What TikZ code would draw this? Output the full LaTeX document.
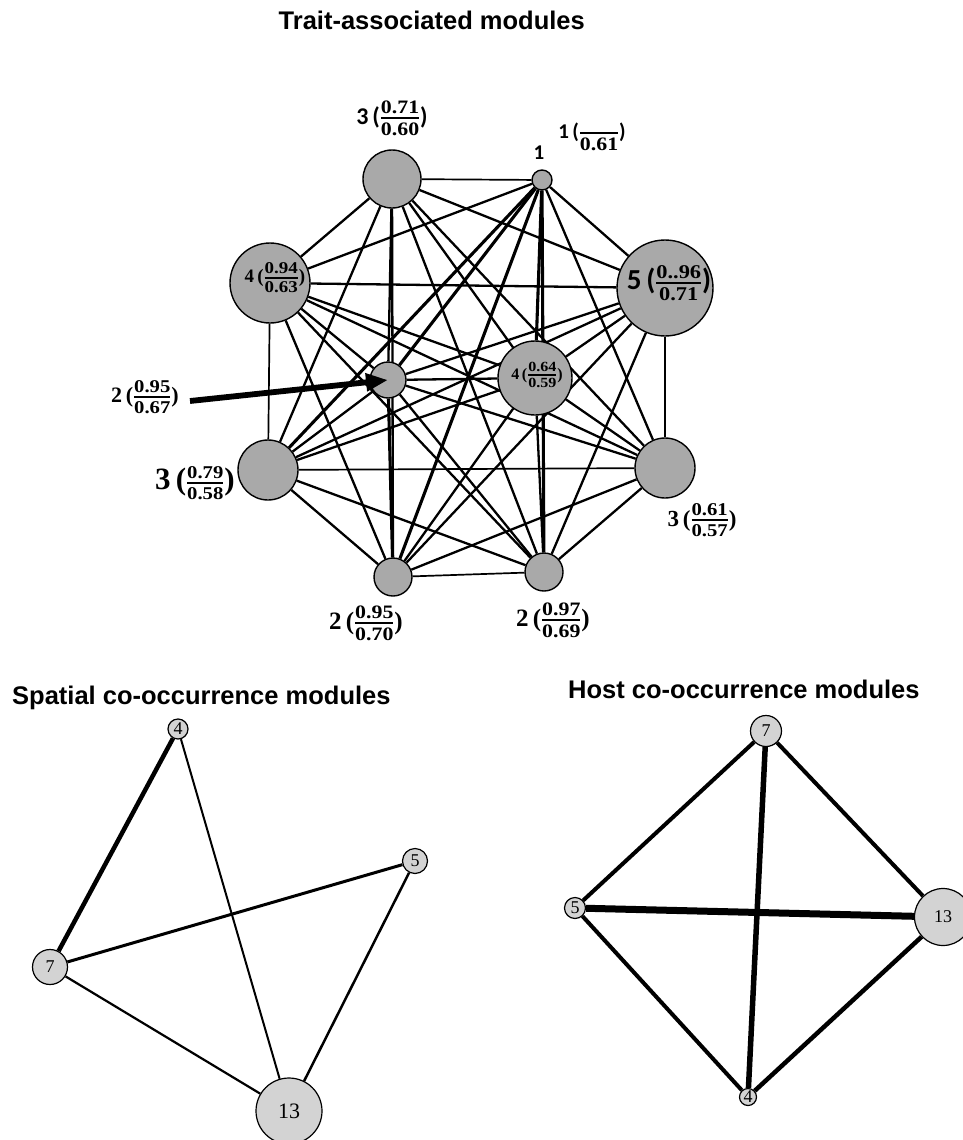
\documentclass[tikz,border=0pt]{standalone}
\usepackage{fontspec}
\setmainfont{Liberation Serif}
\newfontfamily\frf{Liberation Serif}[FakeStretch=1.15]
\newfontfamily\cb{Carlito}
\newfontfamily\ar{Liberation Sans}
\usetikzlibrary{arrows.meta}
\pgfdeclarelayer{bg}
\pgfsetlayers{bg,main}
\definecolor{tgray}{HTML}{A9A9A9}
\definecolor{bgray}{HTML}{D3D3D3}
\newcommand\fsz[1]{\fontsize{#1}{#1}\selectfont}
\newbox\fnb \newbox\fdb \newdimen\fwd
% compact fraction: #1 size, #2 numerator, #3 denominator
\newcommand\frc[3]{\ensuremath{\vcenter{\hbox{\frf\fsz{#1}\bfseries
  \setbox\fnb=\hbox{#2\vphantom{0}}\setbox\fdb=\hbox{#3\vphantom{0}}%
  \fwd=\wd\fdb \ifdim\wd\fnb>\fwd \fwd=\wd\fnb \fi
  \vbox{\offinterlineskip
    \hbox to\fwd{\hss\box\fnb\hss}%
    \kern.2em
    \hrule height1.4pt width\fwd
    \kern.2em
    \hbox to\fwd{\hss\box\fdb\hss}}}}}}
% #1 font, #2 main size, #3 number, #4 fraction size, #5 numerator, #6 denominator
\newcommand\flab[6]{#1\fsz{#2}\bfseries #3\,(\kern1pt\frc{#4}{#5}{#6}\kern1pt)}
\begin{document}
\begin{tikzpicture}[x=1pt,y=-1pt,
  tn/.style={circle,draw=black,line width=1.4pt,fill=tgray,inner sep=0pt},
  bn/.style={circle,draw=black,line width=1.2pt,fill=bgray,inner sep=0pt,font=\fsz{18}},
  lab/.style={inner sep=0pt},
  en/.style={line width=2.3pt},
  et/.style={line width=1.7pt},
  ek/.style={line width=3.1pt},
  ttl/.style={font=\ar\bfseries\fsz{25.5},inner sep=0pt}]
\begin{pgfonlayer}{bg}
\fill[white] (0,0) rectangle (962,1140);
\end{pgfonlayer}
\useasboundingbox (0,0) rectangle (962,1140);

% ---------- titles
\node[ttl,anchor=base east] (t1) at (585,30) {Trait-associated modules};
\node[ttl,anchor=base west] (t2) at (12,704) {Spatial co-occurrence modules};
\node[ttl,anchor=base west] (t3) at (568,698) {Host co-occurrence modules};

% ---------- trait-associated network
\node[tn,minimum size=58pt] (A) at (392,179) {};
\node[tn,minimum size=20pt] (B) at (542,180) {};
\node[tn,minimum size=80pt] (C) at (270,283) {};
\node[tn,minimum size=96pt] (D) at (665,288) {};
\node[tn,minimum size=36pt] (E) at (388,380) {};
\node[tn,minimum size=74pt] (F) at (535,378) {};
\node[tn,minimum size=60pt] (G) at (268,470) {};
\node[tn,minimum size=60pt] (H) at (665,468) {};
\node[tn,minimum size=38pt] (I) at (393,577) {};
\node[tn,minimum size=38pt] (J) at (544,572) {};

\begin{pgfonlayer}{bg}
\foreach \u/\v in {A/C,A/D,A/E,A/F,A/G,A/H,A/I,A/J,
                   B/C,B/D,B/H,
                   C/D,C/E,C/F,C/H,C/I,C/J,
                   D/E,D/F,D/G,D/I,D/J,
                   E/F,E/G,E/H,E/J,
                   F/G,F/H,F/I,F/J,
                   G/I,G/J,H/I,H/J}
  \draw[en] (\u) -- (\v);
\foreach \u/\v in {A/B,C/G,D/H,I/J,G/H}
  \draw[et] (\u) -- (\v);
\foreach \u/\v in {B/E,B/F,B/G,B/I,B/J,E/I}
  \draw[ek] (\u) -- (\v);
\end{pgfonlayer}

% labels
\node[lab] (lA) at (392,118) {\flab{\cb}{24}{3}{19}{0.71}{0.60}};
\node[lab,font=\cb\bfseries\fsz{21}] (lB1) at (539,153) {1};
\node[lab] (lB) at (592,133) {\flab{\cb}{21}{1}{19}{}{0.61}};
\node[lab] (lC) at (275,278) {\flab{\rmfamily}{19}{4}{16.5}{0.94}{0.63}};
\node[lab] (lD) at (669,283) {\flab{\cb}{29}{5}{19.5}{0..96}{0.71}};
\node[lab] (lE) at (145,397) {\flab{\rmfamily}{22}{2}{18}{0.95}{0.67}};
\node[lab] (lF) at (537,375) {\flab{\rmfamily}{16}{4}{14}{0.64}{0.59}};
\node[lab] (lG) at (195,483) {\flab{\rmfamily}{31}{3}{18}{0.79}{0.58}};
\node[lab] (lH) at (702,520) {\flab{\rmfamily}{23}{3}{18}{0.61}{0.57}};
\node[lab] (lI) at (366,623) {\flab{\rmfamily}{25}{2}{19}{0.95}{0.70}};
\node[lab] (lJ) at (553,620) {\flab{\rmfamily}{25}{2}{19}{0.97}{0.69}};

\coordinate (as) at (190,401);
\draw[line width=5.8pt,-{Triangle[length=22pt,width=17pt]}] (as) -- (E.center);

% ---------- spatial co-occurrence network
\node[bn,minimum size=20pt] (s4) at (178,729) {4};
\node[bn,minimum size=25pt] (s5) at (415,861) {5};
\node[bn,minimum size=35pt] (s7) at (50,967) {7};
\node[bn,minimum size=66pt,font=\fsz{22}] (s13) at (289,1111) {13};
\begin{pgfonlayer}{bg}
\draw[line width=4.5pt] (s4) -- (s7);
\draw[line width=2pt] (s4) -- (s13);
\draw[line width=3pt] (s7) -- (s5);
\draw[line width=2.5pt] (s5) -- (s13);
\draw[line width=2.2pt] (s7) -- (s13);
\end{pgfonlayer}

% ---------- host co-occurrence network
\node[bn,minimum size=31pt] (h7) at (766,731) {7};
\node[bn,minimum size=21pt] (h5) at (575,908) {5};
\node[bn,minimum size=57pt] (h13) at (943,917) {13};
\node[bn,minimum size=17pt] (h4) at (748,1097) {4};
\begin{pgfonlayer}{bg}
\draw[line width=7pt] (h5) -- (h13);
\draw[line width=5.5pt] (h7) -- (h4);
\draw[line width=4pt] (h7) -- (h5);
\draw[line width=4pt] (h7) -- (h13);
\draw[line width=4pt] (h5) -- (h4);
\draw[line width=4.5pt] (h13) -- (h4);
\end{pgfonlayer}
\end{tikzpicture}
\end{document}
